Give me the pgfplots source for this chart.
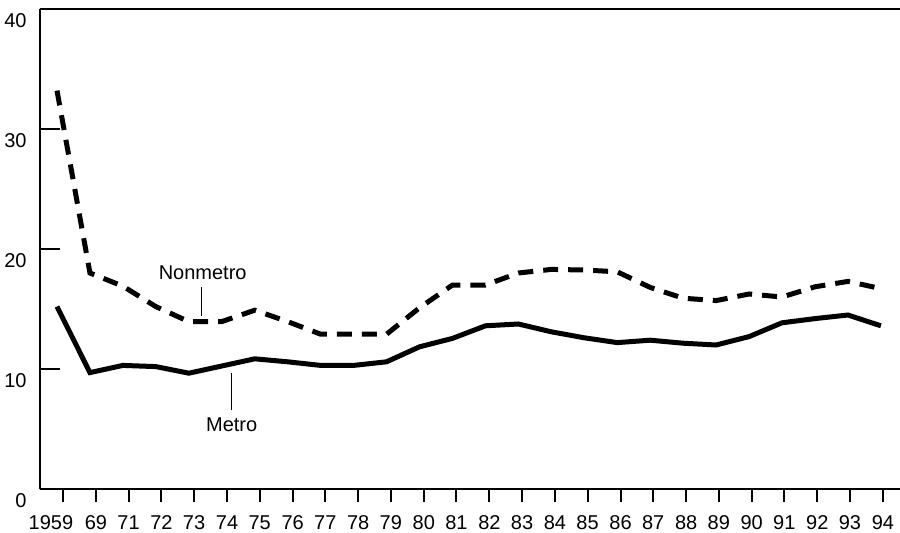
\documentclass[border=0pt]{standalone}
\usepackage{fontspec}
\setmainfont{Liberation Sans}
\usepackage{pgfplots}
\pgfplotsset{compat=1.18}
\usepackage{pgfplotstable}

% index 0 = 1959, 1 = 1969, 2..25 = 1971..1994
\pgfplotstableread{
i  metro nonmetro
0  15.2  33.2
1  9.7   18.0
2  10.3  16.9
3  10.2  15.2
4  9.65  13.95
5  10.25 13.95
6  10.85 14.9
7  10.6  13.95
8  10.3  12.9
9  10.3  12.9
10 10.6  12.9
11 11.85 15.1
12 12.55 17.0
13 13.6  17.0
14 13.75 18.0
15 13.1  18.3
16 12.6  18.25
17 12.2  18.1
18 12.4  16.8
19 12.15 15.9
20 12.0  15.7
21 12.7  16.25
22 13.85 16.0
23 14.2  16.85
24 14.5  17.3
25 13.6  16.7
}\ratedata

\pgfplotsset{
  base/.style={
    scale only axis, width=430pt, height=240pt,
    xmin=-0.516, xmax=25.58, ymin=0, ymax=40,
    axis line style={line width=1.3pt, black},
    tick style={line width=1pt, black},
    tick label style={font=\fontsize{10}{12}\selectfont},
    /pgf/number format/assume math mode=true,
  }
}

\begin{document}
\begin{tikzpicture}[font=\fontsize{10}{12}\selectfont]
\begin{axis}[
    base,
    hide x axis,
    axis y line*=left,
    ytick={0,10,20,30,40},
    tick align=inside,
    major tick length=10pt,
    yticklabel style={anchor=east, xshift=-3.2pt, yshift=-5.75pt},
  ]
  \addplot[black, line width=2.5pt, line join=miter] table[x=i, y=metro] {\ratedata};
  \addplot[black, line width=2.5pt, dash pattern=on 7.5pt off 5pt] table[x=i, y=nonmetro] {\ratedata};
  \node at (axis cs:4.42,18.0) {Nonmetro};
  \draw[line width=0.5pt] (axis cs:4.39,16.8) -- (axis cs:4.39,14.4);
  \node at (axis cs:5.3,5.33) {Metro};
  \draw[line width=0.5pt] (axis cs:5.3,9.65) -- (axis cs:5.3,6.55);
\end{axis}
\begin{axis}[
    base,
    hide y axis,
    xtick pos=bottom,
    tick align=outside,
    major tick length=6.5pt,
    xtick={0.18,1.18,2.17,3.17,4.16,5.16,6.15,7.15,8.14,9.14,10.13,11.13,12.12,13.12,14.11,15.11,16.10,17.10,18.09,19.09,20.08,21.08,22.07,23.07,24.06,25.06},
    xticklabels={{\hspace*{-12pt}1959},69,71,72,73,74,75,76,77,78,79,80,81,82,83,84,85,86,87,88,89,90,91,92,93,94},
    xticklabel style={yshift=-3.2pt},
  ]
\end{axis}
\pgfresetboundingbox
\path[use as bounding box] (-20pt,-21.5pt) rectangle (430pt,244.5pt);
\end{tikzpicture}
\end{document}
